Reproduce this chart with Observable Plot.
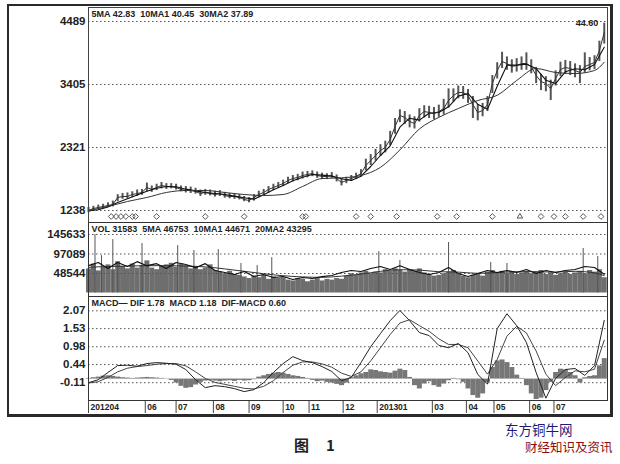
<!DOCTYPE html>
<html><head><meta charset="utf-8">
<script src="https://cdn.jsdelivr.net/npm/d3@7"></script>
<script src="https://cdn.jsdelivr.net/npm/@observablehq/plot@0.6"></script>
<style>
body{margin:0;background:#fff;width:620px;height:464px;position:relative;overflow:hidden;font-family:"Liberation Sans",Arial,sans-serif;}
#frame{position:absolute;left:7px;top:4px;width:606px;height:413px;box-sizing:border-box;border:2px solid #2a2a2a;border-right-width:3px;border-bottom-width:3px;}
.panel{position:absolute;left:10px;}
.panel svg{overflow:visible;display:block;}
.cap{position:absolute;line-height:1;white-space:nowrap;font-family:"Noto Sans CJK SC",sans-serif;}
</style></head><body>
<div id="frame"></div>
<div id="price" class="panel" style="top:7px"></div>
<div id="vol" class="panel" style="top:222px"></div>
<div id="macd" class="panel" style="top:296px"></div>
<div class="cap" style="left:294px;top:437px;font-size:15px;font-weight:bold;color:#222;">图<span style="margin-left:17px">1</span></div>
<div class="cap" style="left:505px;top:423px;font-size:13.5px;color:#1c1c78;">东方铜牛网</div>
<div class="cap" style="left:525px;top:441px;font-size:12.5px;color:#8e0c0c;">财经知识及资讯</div>
<script>
// ---------- data ----------
const priceTicks = [1238, 2321, 3405, 4489];
const volTicks = [48544, 97089, 145633];
const macdTicks = [-0.11, 0.44, 0.98, 1.53, 2.07];
const monthDays = [0, 35, 54, 77, 99, 120, 136, 157, 178, 212, 233, 250, 272, 287];
const monthLabels = ["201204","06","07","08","09","10","11","12","201301","03","04","05","06","07"];
const priceHeader = "5MA 42.83\u00a0\u00a010MA1 40.45\u00a0\u00a030MA2 37.89";
const volHeader = "VOL 31583\u00a0\u00a05MA 46753\u00a0\u00a010MA1 44671\u00a0\u00a020MA2 43295";
const macdHeader = "MACD\u2014 DIF 1.78\u00a0\u00a0MACD 1.18\u00a0\u00a0DIF-MACD 0.60";
const highLabel = "44.60";

const close = [1238,1272,1290,1307,1324,1341,1462,1479,1479,1513,
 1530,1548,1634,1599,1634,1668,1651,1651,1634,1599,
 1582,1582,1565,1530,1548,1530,1513,1530,1496,1479,
 1479,1462,1427,1410,1462,1513,1548,1599,1634,1668,
 1702,1754,1788,1806,1840,1857,1874,1840,1823,1823,
 1840,1788,1720,1754,1788,1823,1874,2012,2098,2184,
 2270,2322,2459,2683,2872,2838,2769,2734,2872,2941,
 2924,2906,2941,2992,3130,3216,3268,3268,3216,3061,
 2924,2958,3061,3422,3646,3801,3766,3715,3732,3766,
 3766,3715,3560,3457,3422,3336,3508,3663,3698,3680,
 3646,3612,3715,3749,3784,3990,4300];
const high = [1290,1310,1330,1345,1370,1400,1510,1530,1540,1560,
 1590,1600,1710,1660,1690,1720,1700,1700,1690,1660,
 1650,1640,1620,1590,1600,1590,1570,1580,1550,1530,
 1530,1510,1480,1460,1510,1570,1600,1650,1690,1720,
 1760,1810,1840,1860,1900,1910,1920,1900,1880,1870,
 1890,1850,1790,1810,1840,1880,1940,2120,2200,2290,
 2370,2430,2600,2820,2970,2940,2880,2850,2990,3040,
 3030,3010,3050,3150,3330,3330,3380,3370,3320,3200,
 3060,3080,3200,3560,3780,3960,3880,3830,3850,3880,
 3950,3830,3700,3580,3540,3480,3640,3790,3820,3800,
 3760,3730,3950,3870,3900,4150,4460];
const low = [1200,1240,1255,1270,1290,1300,1390,1430,1440,1460,
 1480,1500,1560,1550,1580,1610,1600,1610,1590,1560,
 1540,1530,1520,1480,1500,1490,1470,1480,1450,1440,
 1430,1420,1390,1370,1400,1460,1500,1540,1580,1620,
 1650,1700,1730,1750,1780,1800,1820,1790,1770,1770,
 1790,1730,1660,1700,1740,1770,1810,1920,2010,2090,
 2170,2230,2350,2550,2750,2720,2660,2640,2760,2830,
 2820,2800,2840,2880,3000,3100,3160,3150,3080,2820,
 2780,2850,2940,3250,3500,3680,3650,3600,3620,3650,
 3650,3590,3420,3300,3280,3130,3380,3540,3580,3560,
 3520,3420,3600,3640,3660,3800,4100];
const ma10 = [1230,1250,1300,1375,1440,1505,1570,1620,1650,1645,
 1605,1575,1548,1530,1513,1485,1456,1433,1508,1594,
 1668,1748,1811,1857,1846,1829,1783,1754,1828,1995,
 2184,2350,2671,2826,2792,2912,2924,3021,3205,3250,
 3067,2981,3376,3738,3738,3755,3680,3480,3422,3623,
 3675,3658,3749,4045];
const ma30 = [1238,1307,1393,1462,1548,1582,1582,1548,1513,1496,
 1513,1651,1788,1800,1840,1980,2280,2640,2840,2992,
 3130,3220,3474,3680,3612,3594,3646,3789];
const diamondDays = [14,17,20,23,27,29,42,72,96,132,134,165,174,190,215,227,249,279,287,294,305,316];
const triangleDays = [266];

const volume = [60000,72000,55000,64000,70000,58000,78000,66000,60000,72000,
 62000,68000,80000,62000,58000,66000,70000,74000,64000,72000,
 68000,60000,66000,58000,62000,70000,56000,52000,48000,54000,
 46000,44000,40000,36000,42000,38000,44000,34000,40000,36000,
 38000,32000,30000,36000,34000,28000,32000,36000,30000,34000,
 32000,36000,34000,42000,48000,44000,50000,54000,48000,52000,
 50000,58000,54000,60000,56000,52000,58000,54000,60000,50000,
 46000,42000,44000,48000,52000,56000,46000,42000,38000,44000,
 48000,42000,52000,56000,50000,54000,48000,52000,46000,50000,
 54000,48000,52000,56000,46000,50000,44000,48000,52000,46000,
 50000,54000,48000,56000,52000,58000,38000];
const volPeakDays = [4,8,15,18,33,55,65,80,94,104,113,179,192,222,248,258,305,314];
const volPeaks = [145633,93000,133000,76000,123000,118000,105800,108000,73400,68400,88000,103000,81000,125700,76000,73400,110800,90800];
const vma5 = [68000,76000,61000,76000,66000,78000,68000,73000,61000,76000,
 71000,63000,73000,56000,51000,46000,53500,41000,46000,38600,
 41000,33600,38600,36100,41000,43600,51000,56000,53500,61000,
 66000,58500,68000,58500,51000,46000,51000,63500,48500,41000,
 48500,56000,51000,56000,51000,58500,48500,56000,51000,56000,
 58500,66000,63500,46753];
const vma20 = [64000,66000,67000,68000,68000,67000,65000,60000,54000,48000,
 43000,40000,39000,42000,47000,54000,58000,57000,53000,52000,
 49000,51000,53000,53000,52000,54000,50000,43295];

const dif = [-0.11,-0.02,0.20,0.41,0.42,0.39,0.47,0.50,0.48,0.45,
 0.29,-0.02,-0.26,-0.20,-0.23,-0.29,-0.38,-0.32,-0.11,0.20,
 0.47,0.68,0.56,0.50,0.38,0.23,-0.05,0.05,0.50,0.98,
 1.38,1.77,2.08,1.77,1.41,1.32,1.02,0.95,1.08,0.80,
 0.14,-0.15,1.53,1.98,1.62,1.11,0.20,-0.58,0.02,0.29,
 0.32,0.11,0.41,1.78];
const dea = [-0.12,-0.08,0.05,0.22,0.33,0.38,0.41,0.45,0.47,0.47,
 0.40,0.22,0.02,-0.10,-0.16,-0.22,-0.28,-0.30,-0.22,-0.05,
 0.20,0.42,0.52,0.52,0.46,0.36,0.18,0.08,0.22,0.55,
 0.95,1.35,1.70,1.80,1.62,1.45,1.22,1.05,1.05,0.95,
 0.55,0.15,0.60,1.30,1.60,1.40,0.85,0.15,-0.20,0.05,
 0.25,0.22,0.30,1.18];
const hist = [0.02,0.04,0.06,0.09,0.10,0.08,0.06,0.04,0.03,0.02,
 0.03,0.04,0.05,0.04,0.03,0.02,0.01,-0.04,-0.12,-0.22,
 -0.28,-0.26,-0.18,-0.10,-0.06,-0.04,-0.06,-0.08,-0.06,-0.05,
 -0.07,-0.04,-0.06,-0.05,-0.02,0.06,0.10,0.14,0.18,0.20,
 0.18,0.14,0.10,0.08,0.05,0.02,-0.04,-0.08,-0.06,-0.10,
 -0.12,-0.16,-0.20,-0.12,0.04,0.10,0.16,0.20,0.28,0.26,
 0.22,0.20,0.18,0.24,0.30,0.26,0.05,-0.20,-0.30,-0.15,
 -0.08,-0.20,-0.25,-0.15,-0.05,0.02,-0.02,-0.10,-0.30,-0.50,
 -0.58,-0.45,-0.10,0.35,0.55,0.58,0.50,0.35,0.12,0.02,
 -0.20,-0.45,-0.62,-0.58,-0.35,-0.10,0.20,0.30,0.28,0.20,
 0.10,-0.12,0.04,0.08,0.10,0.40,0.62];

// sample dates (trading-day index)
const dayStep3 = d3.range(0, 321, 3);
const dayStep6 = d3.range(0, 319, 6);
const dayStep12 = [...d3.range(0, 313, 12), 318];

// ---------- common ----------
const W = 598, ML = 78, MR = 1;
const xDom = [0, 320];
const baseStyle = {fontFamily: '"Liberation Sans", Arial, sans-serif', color: "#222", background: "transparent", overflow: "visible"};
const grid = (ticks) => Plot.ruleY(ticks, {stroke: "#555", strokeDasharray: "1.5,2.5", strokeWidth: 1});
const yAxis = (ticks, fmt) => Plot.axisY({ticks, tickSize: 0, tickPadding: 3, tickFormat: fmt, fontSize: 11.5, fontWeight: "bold", fill: "#222"});
const header = (t) => Plot.text([t], {text: d => d, frameAnchor: "top-left", dx: 3, dy: 3, lineAnchor: "top", textAnchor: "start", fontSize: 9, fontWeight: "bold", fill: "#222"});

// ---------- price panel ----------
const maxI = d3.maxIndex(high);
const price = Plot.plot({
  width: W, height: 215, marginLeft: ML, marginRight: MR, marginTop: 0, marginBottom: 0,
  style: baseStyle,
  x: {domain: xDom, axis: null},
  y: {domain: [1238, 4489], insetTop: 14, insetBottom: 12, axis: null},
  marks: [
    grid(priceTicks),
    yAxis(priceTicks, d => String(d)),
    Plot.ruleX(dayStep3, {x: d => d, y1: (d, i) => low[i], y2: (d, i) => high[i], stroke: "#555", strokeWidth: 2}),
    Plot.line(close, {x: (d, i) => dayStep3[i], y: d => d, stroke: "#333", strokeWidth: 1}),
    Plot.line(ma10, {x: (d, i) => dayStep6[i], y: d => d, stroke: "#111", strokeWidth: 1.1}),
    Plot.line(ma30, {x: (d, i) => dayStep12[i], y: d => d, stroke: "#333", strokeWidth: 1, curve: "monotone-x"}),
    Plot.dot(diamondDays, {x: d => d, frameAnchor: "bottom", dy: -6, symbol: "diamond2", r: 2.6, stroke: "#555", strokeWidth: 1}),
    Plot.dot(triangleDays, {x: d => d, frameAnchor: "bottom", dy: -6, symbol: "triangle2", r: 2.6, stroke: "#555", strokeWidth: 1}),
    Plot.text([maxI], {x: i => dayStep3[i], y: i => high[i], text: () => highLabel, textAnchor: "end", dx: -6, dy: 0, fontSize: 9, fontWeight: "bold", fill: "#222"}),
    header(priceHeader),
    Plot.frame({stroke: "#444"})
  ]
});
document.getElementById("price").append(price);

// ---------- volume panel ----------
const vol = Plot.plot({
  width: W, height: 74, marginLeft: ML, marginRight: MR, marginTop: 0, marginBottom: 0,
  style: baseStyle,
  x: {domain: xDom, axis: null},
  y: {domain: [0, 145633], insetTop: 12, insetBottom: 3.5, axis: null},
  marks: [
    Plot.ruleX(dayStep3, {x: d => d, y1: 0, y2: (d, i) => volume[i], stroke: "#6e6e6e", strokeWidth: 5}),
    Plot.ruleX(volPeakDays, {x: d => d, y1: 0, y2: (d, i) => volPeaks[i], stroke: "#555", strokeWidth: 1}),
    grid(volTicks),
    yAxis(volTicks, d => String(d)),
    Plot.line(vma20, {x: (d, i) => dayStep12[i], y: d => d, stroke: "#333", strokeWidth: 1, curve: "monotone-x"}),
    Plot.line(vma5, {x: (d, i) => dayStep6[i], y: d => d, stroke: "#111", strokeWidth: 1.2}),
    header(volHeader),
    Plot.frame({stroke: "#333"})
  ]
});
document.getElementById("vol").append(vol);

// ---------- MACD panel ----------
const macd = Plot.plot({
  width: W, height: 117, marginLeft: ML, marginRight: MR, marginTop: 0, marginBottom: 13,
  style: baseStyle,
  x: {domain: xDom, axis: null},
  y: {domain: [-0.11, 2.07], insetTop: 14.3, insetBottom: 17.8, axis: null},
  marks: [
    grid(macdTicks),
    yAxis(macdTicks, d => d.toFixed(2)),
    Plot.ruleX(dayStep3, {x: d => d, y1: 0, y2: (d, i) => hist[i], stroke: "#777", strokeWidth: 5}),
    Plot.line(dea, {x: (d, i) => dayStep6[i], y: d => d, stroke: "#444", strokeWidth: 1}),
    Plot.line(dif, {x: (d, i) => dayStep6[i], y: d => d, stroke: "#222", strokeWidth: 1}),
    Plot.axisX({ticks: monthDays, tickSize: 13, tickFormat: () => "", stroke: "#444"}),
    Plot.text(monthDays, {x: d => d, text: (d, i) => monthLabels[i], frameAnchor: "bottom", dx: 2, dy: 7, textAnchor: "start", lineAnchor: "middle", fontSize: 8.5, fontWeight: "bold", fill: "#222", letterSpacing: -0.4}),
    header(macdHeader),
    Plot.frame({stroke: "#333"})
  ]
});
document.getElementById("macd").append(macd);
</script>
</body></html>
